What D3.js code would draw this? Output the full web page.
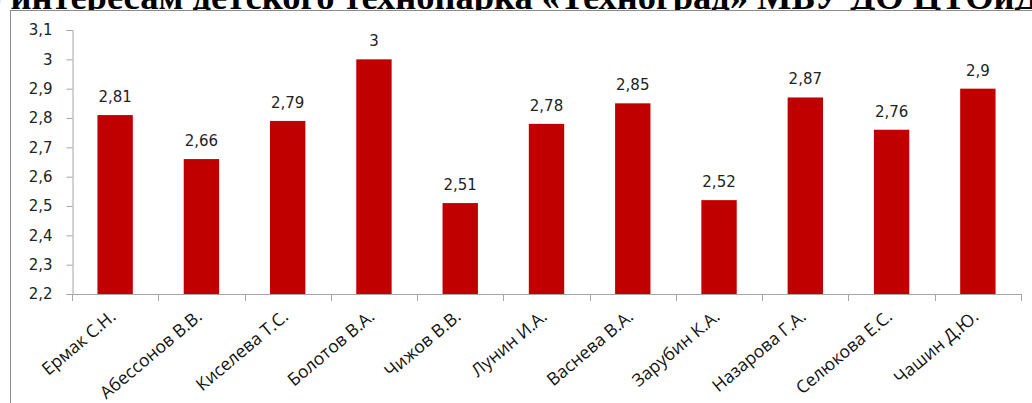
<!DOCTYPE html>
<html><head><meta charset="utf-8">
<script src="https://cdn.jsdelivr.net/npm/d3@7"></script>
<style>body{margin:0;background:#fff;overflow:hidden}svg{display:block}</style>
</head><body>
<svg id="c" width="1032" height="403"></svg>
<script>
const titleText = "по интересам детского технопарка «Техноград» МБУ ДО ЦТОиД";
const categories = ["Ермак С.Н.","Абессонов В.В.","Киселева Т.С.","Болотов В.А.","Чижов В.В.","Лунин И.А.","Васнева В.А.","Зарубин К.А.","Назарова Г.А.","Селюкова Е.С.","Чашин Д.Ю."];
const values = [2.81,2.66,2.79,3,2.51,2.78,2.85,2.52,2.87,2.76,2.9];
const yTicks = [2.2,2.3,2.4,2.5,2.6,2.7,2.8,2.9,3,3.1];

(function(){
const svg = d3.select("#c");
const loc = d3.formatLocale({decimal:",",thousands:" ",grouping:[3],currency:["",""]});
const fmt = loc.format(".2~f");

// title (cut off at top)
svg.append("text").attr("x",-38).attr("y",9)
  .attr("font-family","Liberation Serif, Times New Roman, serif").attr("font-weight","bold")
  .attr("font-size",36.5).attr("fill","#000").text(titleText);

// frame
svg.append("rect").attr("x",0).attr("y",10.5).attr("width",1032).attr("height",393).attr("fill","#fff");
svg.append("line").attr("x1",10.5).attr("x2",10.5).attr("y1",10).attr("y2",403).attr("stroke","#8c8c8c");
svg.append("line").attr("x1",10).attr("x2",1032).attr("y1",10.5).attr("y2",10.5).attr("stroke","#8c8c8c");

const pLeft=72, pRight=1021, pTop=30, pBottom=294;
const x = d3.scaleBand().domain(categories).range([pLeft,pRight]).paddingInner(0.59).paddingOuter(0.295);
const y = d3.scaleLinear().domain([2.2,3.1]).range([pBottom,pTop]);
const axisColor="#a6a6a6";

// y axis
const ya = svg.append("g").attr("transform",`translate(${pLeft+0.5},0)`)
  .call(d3.axisLeft(y).tickValues(yTicks).tickFormat(fmt).tickSize(6).tickPadding(14));
ya.select(".domain").attr("stroke",axisColor);
ya.selectAll(".tick line").attr("stroke",axisColor);
ya.selectAll(".tick text").attr("font-family","DejaVu Sans, Verdana, sans-serif").attr("font-size",15).attr("fill","#222");

// bars
svg.append("g").selectAll("rect").data(values).join("rect")
  .attr("x",(d,i)=>x(categories[i])).attr("width",x.bandwidth())
  .attr("y",d=>y(d)).attr("height",d=>pBottom-y(d)).attr("fill","#C00000");

// x axis
const step = x.step();
svg.append("line").attr("x1",pLeft).attr("x2",pRight).attr("y1",pBottom+0.5).attr("y2",pBottom+0.5).attr("stroke",axisColor);
svg.append("g").selectAll("line").data(d3.range(categories.length+1)).join("line")
  .attr("x1",i=>Math.round(pLeft+i*step)+0.5).attr("x2",i=>Math.round(pLeft+i*step)+0.5)
  .attr("y1",pBottom).attr("y2",pBottom+7).attr("stroke",axisColor);

// value labels
svg.append("g").selectAll("text").data(values).join("text")
  .attr("x",(d,i)=>x(categories[i])+x.bandwidth()/2).attr("y",d=>y(d)-13)
  .attr("text-anchor","middle").attr("font-family","DejaVu Sans, Verdana, sans-serif").attr("font-size",15).attr("fill","#222")
  .text(d=>fmt(d));

// category labels
svg.append("g").selectAll("text").data(categories).join("text")
  .attr("transform",d=>`translate(${x(d)+x.bandwidth()/2-6},${pBottom+15}) rotate(-40)`)
  .attr("text-anchor","end").attr("dy","0.7em")
  .attr("font-family","Open Sans, sans-serif").attr("font-size",17.5).attr("fill","#111")
  .text(d=>d);
})();
</script>
</body></html>
